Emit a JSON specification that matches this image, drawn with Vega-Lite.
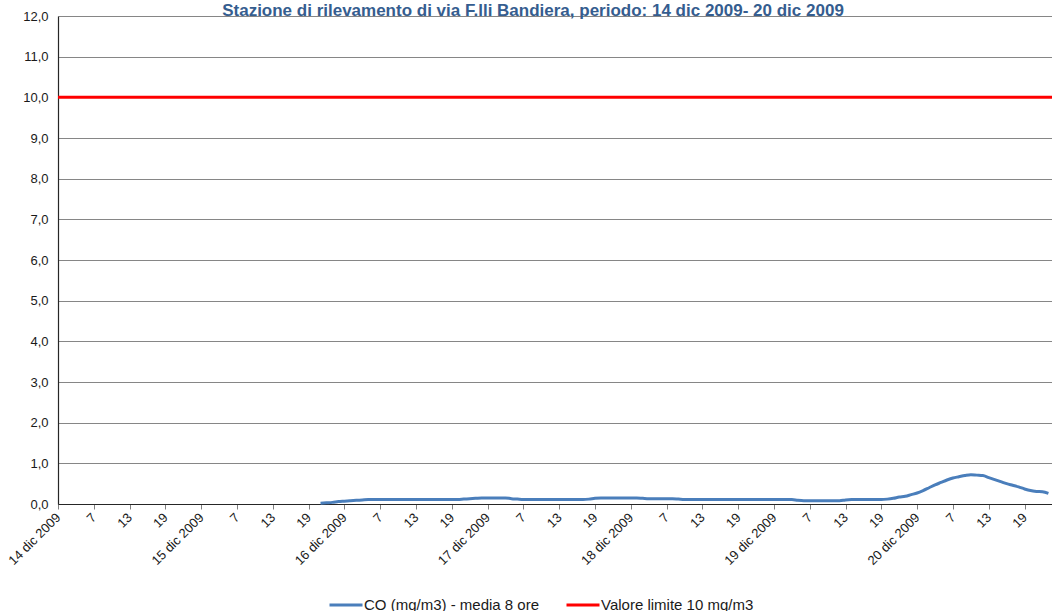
{
  "$schema": "https://vega.github.io/schema/vega-lite/v6.json",
  "width": 994,
  "height": 488,
  "autosize": {"type": "none"},
  "padding": {"left": 58, "top": 16, "right": 0, "bottom": 107},
  "background": "white",
  "title": {
    "text": "Stazione di rilevamento di via F.lli Bandiera, periodo: 14 dic 2009- 20 dic 2009",
    "font": "Liberation Sans",
    "fontSize": 17,
    "fontWeight": "bold",
    "color": "#355d8f",
    "anchor": "middle",
    "dx": -22,
    "dy": 25,
    "baseline": "alphabetic",
    "offset": 2
  },
  "config": {
    "view": {"stroke": null},
    "font": "Liberation Sans"
  },
  "layer": [
    {
      "data": {"values": [{"limite": 10}]},
      "mark": {"type": "rule", "strokeWidth": 3},
      "encoding": {
        "y": {"field": "limite", "type": "quantitative"},
        "color": {"datum": "Valore limite 10 mg/m3"}
      }
    },
    {
      "data": {"values": [
        {"h": 44, "co": 0.02}, {"h": 45, "co": 0.03}, {"h": 46, "co": 0.04}, {"h": 47, "co": 0.06},
        {"h": 48, "co": 0.07}, {"h": 49, "co": 0.08}, {"h": 50, "co": 0.09}, {"h": 51, "co": 0.10},
        {"h": 52, "co": 0.11}, {"h": 53, "co": 0.11}, {"h": 54, "co": 0.11}, {"h": 55, "co": 0.11},
        {"h": 56, "co": 0.11}, {"h": 57, "co": 0.11}, {"h": 58, "co": 0.11}, {"h": 59, "co": 0.11},
        {"h": 60, "co": 0.11}, {"h": 61, "co": 0.11}, {"h": 62, "co": 0.11}, {"h": 63, "co": 0.11},
        {"h": 64, "co": 0.11}, {"h": 65, "co": 0.11}, {"h": 66, "co": 0.11}, {"h": 67, "co": 0.11},
        {"h": 68, "co": 0.12}, {"h": 69, "co": 0.13}, {"h": 70, "co": 0.14}, {"h": 71, "co": 0.15},
        {"h": 72, "co": 0.15}, {"h": 73, "co": 0.15}, {"h": 74, "co": 0.15}, {"h": 75, "co": 0.15},
        {"h": 76, "co": 0.13}, {"h": 77, "co": 0.12}, {"h": 78, "co": 0.11}, {"h": 79, "co": 0.11},
        {"h": 80, "co": 0.11}, {"h": 81, "co": 0.11}, {"h": 82, "co": 0.11}, {"h": 83, "co": 0.11},
        {"h": 84, "co": 0.11}, {"h": 85, "co": 0.11}, {"h": 86, "co": 0.11}, {"h": 87, "co": 0.11},
        {"h": 88, "co": 0.11}, {"h": 89, "co": 0.12}, {"h": 90, "co": 0.14}, {"h": 91, "co": 0.15},
        {"h": 92, "co": 0.15}, {"h": 93, "co": 0.15}, {"h": 94, "co": 0.15}, {"h": 95, "co": 0.15},
        {"h": 96, "co": 0.15}, {"h": 97, "co": 0.15}, {"h": 98, "co": 0.14}, {"h": 99, "co": 0.13},
        {"h": 100, "co": 0.13}, {"h": 101, "co": 0.13}, {"h": 102, "co": 0.13}, {"h": 103, "co": 0.13},
        {"h": 104, "co": 0.12}, {"h": 105, "co": 0.11}, {"h": 106, "co": 0.11}, {"h": 107, "co": 0.11},
        {"h": 108, "co": 0.11}, {"h": 109, "co": 0.11}, {"h": 110, "co": 0.11}, {"h": 111, "co": 0.11},
        {"h": 112, "co": 0.11}, {"h": 113, "co": 0.11}, {"h": 114, "co": 0.11}, {"h": 115, "co": 0.11},
        {"h": 116, "co": 0.11}, {"h": 117, "co": 0.11}, {"h": 118, "co": 0.11}, {"h": 119, "co": 0.11},
        {"h": 120, "co": 0.11}, {"h": 121, "co": 0.11}, {"h": 122, "co": 0.11}, {"h": 123, "co": 0.11},
        {"h": 124, "co": 0.09}, {"h": 125, "co": 0.08}, {"h": 126, "co": 0.08}, {"h": 127, "co": 0.08},
        {"h": 128, "co": 0.08}, {"h": 129, "co": 0.08}, {"h": 130, "co": 0.08}, {"h": 131, "co": 0.08},
        {"h": 132, "co": 0.10}, {"h": 133, "co": 0.11}, {"h": 134, "co": 0.11}, {"h": 135, "co": 0.11},
        {"h": 136, "co": 0.11}, {"h": 137, "co": 0.11}, {"h": 138, "co": 0.11}, {"h": 139, "co": 0.12},
        {"h": 140, "co": 0.14}, {"h": 141, "co": 0.17}, {"h": 142, "co": 0.19}, {"h": 143, "co": 0.23},
        {"h": 144, "co": 0.27}, {"h": 145, "co": 0.33}, {"h": 146, "co": 0.40}, {"h": 147, "co": 0.47},
        {"h": 148, "co": 0.53}, {"h": 149, "co": 0.59}, {"h": 150, "co": 0.64}, {"h": 151, "co": 0.67},
        {"h": 152, "co": 0.70}, {"h": 153, "co": 0.72}, {"h": 154, "co": 0.71}, {"h": 155, "co": 0.70},
        {"h": 156, "co": 0.65}, {"h": 157, "co": 0.60}, {"h": 158, "co": 0.55}, {"h": 159, "co": 0.50},
        {"h": 160, "co": 0.46}, {"h": 161, "co": 0.42}, {"h": 162, "co": 0.37}, {"h": 163, "co": 0.33},
        {"h": 164, "co": 0.31}, {"h": 165, "co": 0.30}, {"h": 166, "co": 0.26}
      ]},
      "mark": {"type": "line", "strokeWidth": 3, "interpolate": "monotone"},
      "encoding": {
        "x": {
          "field": "h",
          "type": "quantitative",
          "scale": {"domain": [0, 166.6], "nice": false, "zero": false},
          "axis": {
            "title": null,
            "values": [0,6,12,18,24,30,36,42,48,54,60,66,72,78,84,90,96,102,108,114,120,126,132,138,144,150,156,162],
            "labelExpr": "datum.value % 24 == 0 ? (14 + datum.value / 24) + ' dic 2009' : '' + (datum.value % 24 + 1)",
            "labelAngle": -45,
            "labelAlign": "right",
            "labelBaseline": "middle",
            "labelFontSize": 13,
            "labelColor": "#1a1a1a",
            "labelPadding": 6,
            "labelOverlap": false,
            "labelFlush": false,
            "grid": false,
            "domainColor": "#262626",
            "domainWidth": 1.2,
            "tickColor": "#808080",
            "tickSize": 5
          }
        },
        "y": {"field": "co", "type": "quantitative"},
        "color": {"datum": "CO (mg/m3) - media 8 ore"}
      }
    }
  ],
  "encoding": {
    "y": {
      "type": "quantitative",
      "scale": {"domain": [0, 12], "nice": false},
      "axis": {
        "title": null,
        "values": [0,1,2,3,4,5,6,7,8,9,10,11,12],
        "labelExpr": "replace(format(datum.value, '.1f'), '.', ',')",
        "labelFontSize": 13,
        "labelColor": "#1a1a1a",
        "labelPadding": 10,
        "ticks": false,
        "grid": true,
        "gridColor": "#868686",
        "gridWidth": 1,
        "domainColor": "#262626",
        "domainWidth": 1.2
      }
    },
    "color": {
      "type": "nominal",
      "scale": {
        "domain": ["CO (mg/m3) - media 8 ore", "Valore limite 10 mg/m3"],
        "range": ["#4a7ebb", "#ff0000"]
      },
      "legend": {
        "title": null,
        "orient": "none",
        "direction": "horizontal",
        "legendX": 270,
        "legendY": 571,
        "padding": 0,
        "symbolType": "stroke",
        "symbolSize": 1089,
        "symbolStrokeWidth": 3,
        "labelFontSize": 15,
        "labelLimit": 400,
        "labelColor": "#1a1a1a",
        "labelOffset": 0,
        "columnPadding": 20
      }
    }
  }
}
